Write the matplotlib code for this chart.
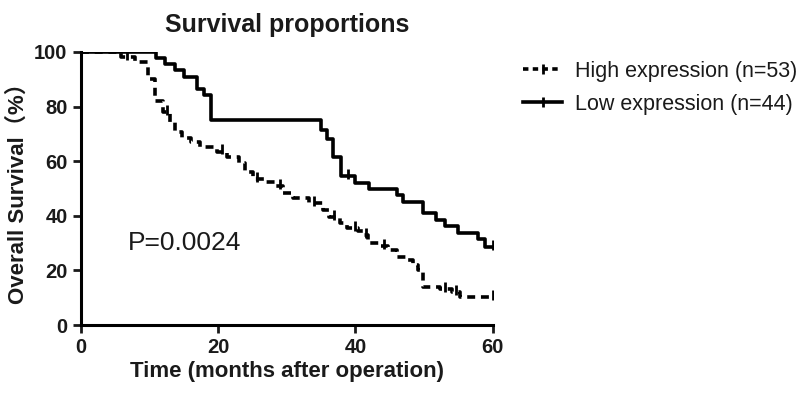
import matplotlib
matplotlib.use('Agg')
import matplotlib.pyplot as plt
from matplotlib.lines import Line2D

plt.rcParams['font.family'] = ['Liberation Sans', 'Noto Sans CJK SC', 'DejaVu Sans']

# Kaplan-Meier steps (time in months, survival %)
high_t = [0, 5.9, 7.9, 9.8, 10.8, 12.0, 13.0, 13.7, 14.7, 16.1, 17.3, 19.8, 21.3,
          23.1, 23.9, 25.1, 27.0, 28.3, 29.4, 30.9, 33.3, 35.3, 36.2, 37.7, 38.7,
          40.4, 41.1, 41.8, 43.5, 44.7, 46.0, 47.4, 48.4, 49.1, 49.8, 52.3, 54.0,
          55.2, 60]
high_s = [100, 98.1, 96.2, 90.0, 82.0, 78.0, 74.5, 70.5, 68.5, 67.0, 65.3, 63.5, 61.6,
          59.5, 56.0, 53.5, 52.5, 51.0, 48.5, 46.5, 44.6, 42.1, 39.5, 37.2, 35.5,
          34.5, 33.0, 30.0, 29.0, 27.5, 25.0, 23.8, 22.0, 20.0, 14.0, 13.2, 12.0,
          10.2, 10.2]
high_cens_t = [6.8, 12.6, 20.6, 25.6, 29.0, 33.9, 36.9, 40.0, 41.5, 44.2, 53.0, 54.6, 60]

low_t = [0, 11.0, 12.2, 13.7, 15.0, 16.9, 18.0, 19.0, 35.0, 35.8, 36.7, 37.9, 39.9,
         42.0, 46.0, 46.9, 49.9, 51.7, 53.0, 54.9, 57.8, 58.8, 60]
low_s = [100, 97.7, 95.5, 93.2, 90.9, 86.4, 84.1, 75.0, 71.4, 68.2, 61.4, 54.5, 52.0,
         49.7, 47.5, 45.2, 40.9, 38.6, 36.1, 33.6, 31.6, 28.7, 28.7]
low_cens_t = [38.9, 60]


def surv_at(ts, ss, t):
    val = ss[0]
    for ti, si in zip(ts, ss):
        if ti <= t:
            val = si
    return val


fig = plt.figure(figsize=(8, 3.96), dpi=100)
ax = fig.add_axes([0.101, 0.179, 0.515, 0.69])

txt = '#1a1a1a'
ax.step(high_t, high_s, where='post', color='black', lw=2.6, ls=(0, (2.2, 1.6)))
ax.step(low_t, low_s, where='post', color='black', lw=2.6)
ax.plot(high_cens_t, [surv_at(high_t, high_s, t) + 0.8 for t in high_cens_t],
        ls='none', marker='|', color='black', ms=7, mew=2)
ax.plot(low_cens_t, [surv_at(low_t, low_s, t) + 0.8 for t in low_cens_t],
        ls='none', marker='|', color='black', ms=7, mew=2)

ax.text(6.8, 30, 'P=0.0024', fontsize=19, color=txt, va='center')

ax.set_xlim(0, 60)
ax.set_ylim(0, 100)
ax.set_xticks([0, 20, 40, 60])
ax.set_yticks([0, 20, 40, 60, 80, 100])
for s in ['top', 'right']:
    ax.spines[s].set_visible(False)
for s in ['left', 'bottom']:
    ax.spines[s].set_linewidth(2.2)
ax.tick_params(width=2, length=6, labelsize=14.5, colors=txt)
for lab in ax.get_xticklabels() + ax.get_yticklabels():
    lab.set_fontweight('bold')
ax.set_xlabel('Time (months after operation)', fontsize=16, fontweight='bold', color=txt, labelpad=3)
ax.set_ylabel('Overall Survival（%）', fontsize=16, fontweight='bold', color=txt, labelpad=4)
ax.set_title('Survival proportions', fontsize=18, fontweight='bold', color=txt, pad=14)

handles = [Line2D([], [], color='black', lw=2.6, ls=(0, (1.5, 1.2)), marker='|', ms=7, mew=2),
           Line2D([], [], color='black', lw=2.6, marker='|', ms=7, mew=2)]
fig.legend(handles, ['High expression (n=53)', 'Low expression (n=44)'],
           loc='upper left', bbox_to_anchor=(0.63, 0.895), frameon=False,
           fontsize=15.5, handlelength=1.8, handletextpad=0.6, labelspacing=0.55,
           labelcolor=txt)

fig.savefig('out.png', dpi=100)
